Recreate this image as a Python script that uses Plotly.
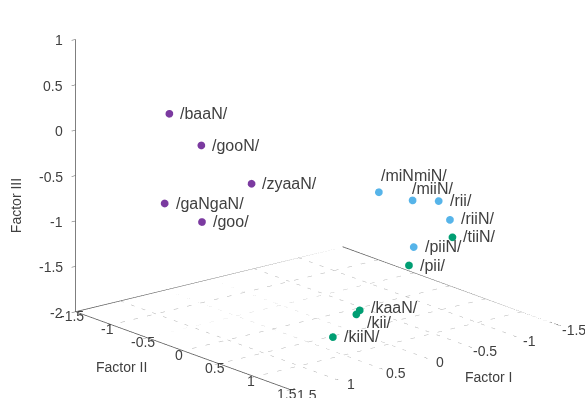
import plotly.graph_objects as go

# ---------------- data ----------------
labels_purple = ["/baaN/", "/gooN/", "/zyaaN/", "/gaNgaN/", "/goo/"]
f1_purple = [0.85, 0.70, 0.45, 1.08, 0.87]
f2_purple = [-1.00, -0.74, -0.35, -0.78, -0.52]
f3_purple = [0.17, -0.14, -0.51, -0.70, -0.88]

labels_blue = ["/miNmiN/", "/miiN/", "/rii/", "/riiN/", "/piiN/"]
f1_blue = [-0.40, -0.61, -0.79, -0.82, -0.51]
f2_blue = [0.37, 0.58, 0.72, 0.84, 0.72]
f3_blue = [-0.60, -0.68, -0.69, -0.87, -1.13]

labels_green = ["/tiiN/", "/pii/", "/kaaN/", "/kii/", "/kiiN/"]
f1_green = [-0.80, -0.44, 0.00, 0.03, 0.39]
f2_green = [0.90, 0.74, 0.60, 0.59, 0.71]
f3_green = [-1.04, -1.31, -1.74, -1.78, -1.91]

x_ticks = [-1.5, -1, -0.5, 0, 0.5, 1, 1.5]
y_ticks = [-1.5, -1, -0.5, 0, 0.5, 1, 1.5]
z_ticks = [-2, -1.5, -1, -0.5, 0, 0.5, 1]

# label offsets (pixels: right, up) per group
off_purple = [(9, 0)] * 5
off_blue = [(0, 17), (-3, 12), (9, 0), (9, 1), (9, 0)]
off_green = [(9, 1), (9, 0), (9, 3), (9, -8), (9, 0)]

# ---------------- styling ----------------
PURPLE = "#7b3aa0"
BLUE = "#56b4e9"
GREEN = "#009e73"
TXT = "#404040"
FONT = "Liberation Sans, Arial, sans-serif"

xr = [x_ticks[0], x_ticks[-1]]
yr = [y_ticks[0], y_ticks[-1]]
zr = [z_ticks[0], z_ticks[-1]]
zf = zr[0]

def fmt(v):
    return "%g" % v

fig = go.Figure()

# floor grid (dotted)
gx, gy, gz = [], [], []
for t in x_ticks[1:-1]:
    gx += [t, t, None]; gy += [yr[0], yr[1], None]; gz += [zf, zf, None]
for t in y_ticks[1:-1]:
    gx += [xr[0], xr[1], None]; gy += [t, t, None]; gz += [zf, zf, None]
fig.add_trace(go.Scatter3d(x=gx, y=gy, z=gz, mode="lines",
                           line=dict(color="#b0b0b0", width=1, dash="dot"),
                           hoverinfo="skip", showlegend=False))

# floor border + vertical z axis line
bx = [xr[1], xr[1], xr[0], xr[0], xr[1], None, xr[1], xr[1]]
by = [yr[0], yr[1], yr[1], yr[0], yr[0], None, yr[0], yr[0]]
bz = [zf, zf, zf, zf, zf, None, zr[0], zr[1]]
fig.add_trace(go.Scatter3d(x=bx, y=by, z=bz, mode="lines",
                           line=dict(color="#555555", width=1.5),
                           hoverinfo="skip", showlegend=False))

annotations = []
tick_font = dict(family=FONT, size=14, color=TXT)
title_font = dict(family=FONT, size=14, color=TXT)

def add_group(xs, ys, zs, labels, color, offsets):
    fig.add_trace(go.Scatter3d(
        x=xs, y=ys, z=zs, mode="markers",
        marker=dict(size=4.5, color=color, line=dict(width=0)),
        text=labels, hoverinfo="text",
        showlegend=False))
    for xv, yv, zv, lab, (dx, dy) in zip(xs, ys, zs, labels, offsets):
        annotations.append(dict(x=xv, y=yv, z=zv, text=lab, showarrow=False,
                                xanchor="left", yanchor="middle",
                                xshift=dx, yshift=dy,
                                font=dict(family=FONT, size=16, color=TXT)))

add_group(f1_purple, f2_purple, f3_purple, labels_purple, PURPLE, off_purple)
add_group(f1_blue, f2_blue, f3_blue, labels_blue, BLUE, off_blue)
add_group(f1_green, f2_green, f3_green, labels_green, GREEN, off_green)

# horizontal tick labels
for t in x_ticks:
    annotations.append(dict(x=t, y=yr[1], z=zf, text=fmt(t), showarrow=False,
                            xshift=16, yshift=-5, font=tick_font))
for t in y_ticks:
    annotations.append(dict(x=xr[1], y=t, z=zf, text=fmt(t), showarrow=False,
                            xshift=-4, yshift=-4, font=tick_font))
for t in z_ticks:
    annotations.append(dict(x=xr[1], y=yr[0], z=t, text=fmt(t), showarrow=False,
                            xanchor="right", yanchor="middle",
                            xshift=-11, yshift=-1, font=tick_font))

# axis titles placed beside the middle of each drawn axis
annotations.append(dict(x=0, y=yr[1], z=zf, text="Factor I", showarrow=False,
                        xshift=64, yshift=-20, font=title_font))
annotations.append(dict(x=xr[1], y=0, z=zf, text="Factor II", showarrow=False,
                        xshift=-62, yshift=-16, font=title_font))
annotations.append(dict(x=xr[1], y=yr[0], z=(zr[0] + zr[1]) / 2, text="Factor III",
                        showarrow=False, textangle=-90,
                        xshift=-60, yshift=-30, font=title_font))

axis_common = dict(showgrid=False, showbackground=False, zeroline=False,
                   showline=False, ticks="inside", ticklen=5, tickcolor="#555555",
                   showspikes=False, tickangle=0, title=dict(text=""),
                   showticklabels=False, tickfont=tick_font)

S = 1.735
R = 2.0
C = (0.1099, -0.0573, -0.0812)
D = (0.605, 0.739, 0.297)
fig.update_layout(
    width=585, height=398,
    margin=dict(l=0, r=0, t=0, b=0),
    paper_bgcolor="white",
    font=dict(family=FONT, color=TXT),
    scene=dict(
        domain=dict(x=[0.0, 1.0], y=[0.0, 1.0]),
        xaxis=dict(range=xr, tickvals=x_ticks, **axis_common),
        yaxis=dict(range=yr, tickvals=y_ticks, **axis_common),
        zaxis=dict(range=zr, tickvals=z_ticks, **axis_common),
        aspectmode="manual",
        aspectratio=dict(x=1.0 * S, y=0.983 * S, z=0.826 * S),
        camera=dict(eye=dict(x=C[0] + D[0] * R, y=C[1] + D[1] * R, z=C[2] + D[2] * R),
                    up=dict(x=0, y=0, z=1),
                    center=dict(x=C[0], y=C[1], z=C[2]),
                    projection=dict(type="orthographic")),
        annotations=annotations,
    ),
)

fig.write_html("out.html")
